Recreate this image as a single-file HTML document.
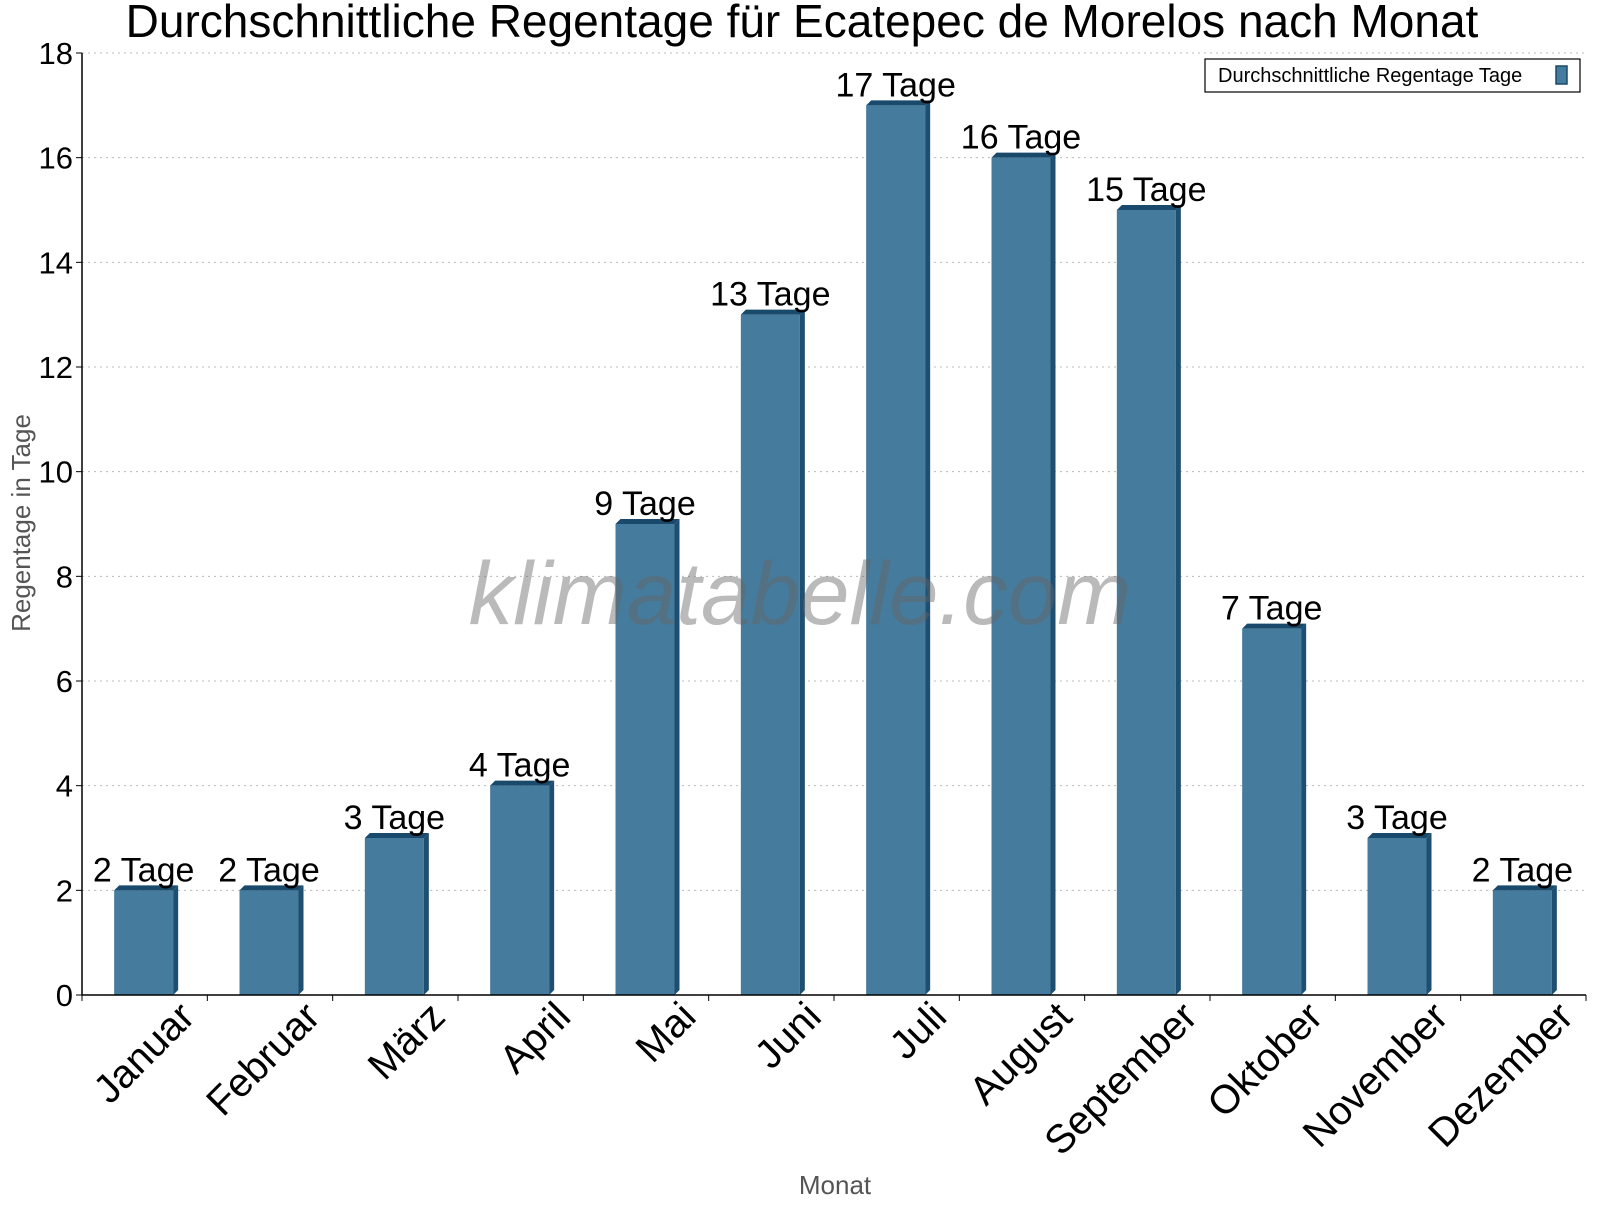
<!DOCTYPE html>
<html><head><meta charset="utf-8"><style>
body{margin:0;background:#fff;}
svg text{font-family:"Liberation Sans",sans-serif;}
</style></head><body>
<svg id="chart" width="1600" height="1200" xmlns="http://www.w3.org/2000/svg">
<rect width="1600" height="1200" fill="#fff"/>
<text x="802" y="37" font-size="46" text-anchor="middle" fill="#000">Durchschnittliche Regentage für Ecatepec de Morelos nach Monat</text>
<g id="grid"></g>
<g id="bars"></g>
<g id="axes"></g>
<text x="800" y="624" font-size="89" font-style="italic" text-anchor="middle" fill="#666" fill-opacity="0.45">klimatabelle.com</text>
<text transform="translate(30,523) rotate(-90)" font-size="26" text-anchor="middle" fill="#555">Regentage in Tage</text>
<text x="835" y="1194" font-size="26" text-anchor="middle" fill="#555">Monat</text>
<g>
<rect x="1205" y="59" width="375" height="33" fill="#fff" stroke="#000" stroke-width="1.2"/>
<text x="1218" y="82" font-size="20" fill="#000">Durchschnittliche Regentage Tage</text>
<rect x="1556" y="66" width="11" height="18" fill="#457b9d" stroke="#1a4a6b" stroke-width="1.5"/>
</g>
</svg>
<script>
const months=["Januar","Februar","März","April","Mai","Juni","Juli","August","September","Oktober","November","Dezember"];
const values=[2,2,3,4,9,13,17,16,15,7,3,2];
const yTicks=[0,2,4,6,8,10,12,14,16,18];
const NS="http://www.w3.org/2000/svg";
const x0=82,x1=1586,y0=995,yTop=53,yMax=18;
const bw=(x1-x0)/months.length;
const ys=v=>y0-(v/yMax)*(y0-yTop);
const xc=i=>x0+bw*(i+0.5);
function mk(tag,attrs,parent){const e=document.createElementNS(NS,tag);for(const k in attrs)e.setAttribute(k,attrs[k]);parent.appendChild(e);return e;}
const grid=document.getElementById('grid'),bars=document.getElementById('bars'),axes=document.getElementById('axes');
yTicks.forEach(t=>{
  const y=ys(t);
  if(t>0){const l=mk('line',{x1:x0,x2:x1,y1:y,y2:y,stroke:'#bbb','stroke-dasharray':'2,4','stroke-width':1},grid);
  
  }
  const tk=mk('line',{x1:x0-6,x2:x0,y1:y,y2:y,stroke:'#000'},axes);
  
  
  const tx=mk('text',{x:x0-9,y:y+11,'font-size':31,'text-anchor':'end',fill:'#000'},axes);
  tx.textContent=t;
  
  
});
const d=5,fw=59;
values.forEach((v,i)=>{
  const c=xc(i)-1,l=c-fw/2,r=c+fw/2,yt=ys(v);
  const g=mk('g',{},bars);
  
  
  mk('rect',{x:l,y:yt,width:fw,height:y0-yt,fill:'#457b9d'},g);
  mk('polygon',{points:`${r},${yt} ${r+d},${yt-d} ${r+d},${y0-d} ${r},${y0}`,fill:'#1e4e70'},g);
  mk('polygon',{points:`${l},${yt} ${l+d},${yt-d} ${r+d},${yt-d} ${r},${yt}`,fill:'#1a4a6b'},g);
  const t=mk('text',{x:c,y:yt-9,'font-size':34,'text-anchor':'middle',fill:'#000'},bars);
  t.textContent=v+' Tage';
  
  
  const lx=xc(i)+52,ly=1019;
  const ml=mk('text',{x:lx,y:ly,'font-size':40,'text-anchor':'end',fill:'#000',transform:`rotate(-45 ${lx} ${ly})`},axes);
  ml.textContent=months[i];
  
  
});
for(let i=0;i<=months.length;i++){
  const x=x0+bw*i;
  const tk=mk('line',{x1:x,x2:x,y1:y0,y2:y0+6,stroke:'#000'},axes);
  
  
}
const ax=mk('line',{x1:x0,x2:x1,y1:y0,y2:y0,stroke:'#000','stroke-width':1.5},axes);


const ay=mk('line',{x1:x0,x2:x0,y1:yTop,y2:y0,stroke:'#000','stroke-width':1.5},axes);


</script>
</body></html>
